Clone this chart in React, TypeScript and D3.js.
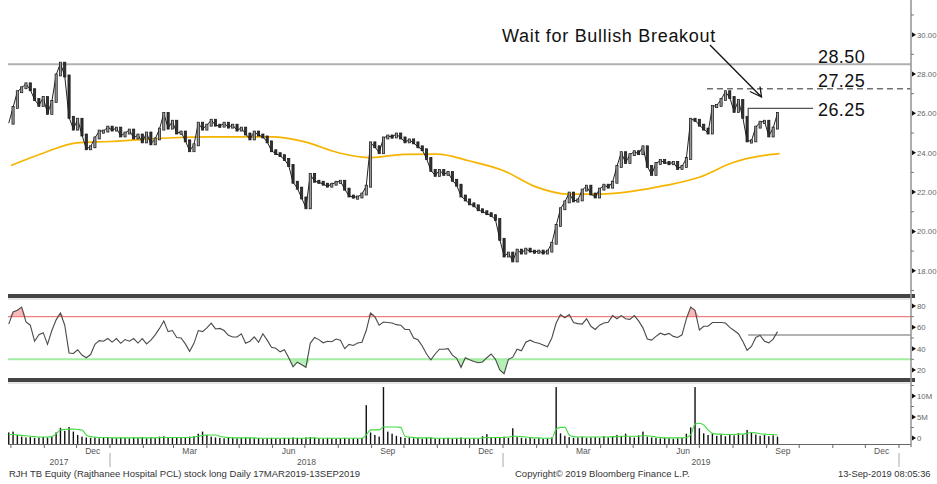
import React from 'react';
import * as d3 from 'd3';

const W = 937;
const H = 484;

// Sampling grid of the daily series (every 4 calendar days from 29 Sep 2017)
const SERIES_START = new Date(2017, 8, 29);
const SERIES_STEP_DAYS = 4;

const closePrices = [
  25.5, 26.3, 27.1, 27.3, 27.5, 27.2, 26.7, 26.4, 26.8, 26.0,
  26.6, 27.95, 28.55, 27.9, 25.8, 25.2, 25.7, 24.9, 24.2, 24.3,
  24.75, 25.1, 25.1, 25.3, 25.15, 25.25, 24.85, 25.0, 25.15, 24.75,
  24.9, 24.55, 25.0, 24.45, 24.7, 25.2, 26.0, 25.25, 25.6, 25.0,
  25.05, 24.6, 24.1, 24.4, 25.5, 25.2, 25.4, 25.65, 25.4, 25.35,
  25.5, 25.3, 25.4, 25.15, 25.25, 24.95, 24.7, 25.05, 24.9, 24.8,
  24.55, 24.1, 23.95, 23.85, 23.65, 23.35, 22.5, 22.2, 21.7, 21.2,
  22.9, 22.55, 22.5, 22.4, 22.3, 22.4, 22.5, 22.55, 22.15, 21.8,
  21.75, 21.75, 21.9, 22.3, 24.5, 24.3, 24.0, 24.75, 24.85, 24.8,
  24.95, 24.75, 24.55, 24.65, 24.5, 24.3, 24.15, 23.7, 23.1, 22.85,
  23.1, 22.9, 23.0, 22.6, 22.35, 21.8, 21.6, 21.4, 21.3, 21.1,
  21.0, 20.9, 20.8, 20.6, 19.6, 18.75, 18.9, 18.5, 19.05, 18.9,
  19.1, 19.0, 18.95, 19.0, 18.9, 19.0, 19.4, 20.3, 21.15, 21.5,
  21.95, 21.55, 21.6, 22.1, 22.3, 21.9, 21.75, 22.15, 22.35, 22.25,
  22.5, 23.3, 24.0, 23.5, 23.9, 24.05, 23.95, 24.3, 23.3, 22.9,
  23.45, 23.6, 23.5, 23.45, 23.5, 23.2, 23.3, 23.7, 25.7, 25.65,
  25.4, 25.2, 25.0, 26.35, 26.4, 26.7, 27.1, 26.8, 26.1, 26.65,
  25.8, 24.6, 24.6, 25.3, 25.55, 25.6, 24.85, 25.25, 26.0,
];

const rsiValues = [
  63, 74.4, 76, 79, 65, 62, 47, 53, 55, 44,
  57, 67, 73.4, 62, 36, 35.5, 39, 34, 31.5, 34.5,
  44, 47.5, 47, 49.5, 46.2, 49.5, 45, 48.5, 47, 49.5,
  45.3, 49.5, 44.5, 48, 53, 59, 66, 56, 57, 50.5,
  50, 44.5, 37.5, 45, 57, 56, 59.5, 64, 58.5, 59,
  57, 52.5, 51, 51, 54, 45, 47, 51, 46, 54,
  48, 41.4, 40.4, 37, 39, 31.5, 23, 27.3, 25, 22.5,
  45, 50.5, 48.5, 45.5, 47, 46.5, 49, 48, 40, 44,
  43, 45.3, 46, 57, 73.4, 70, 62, 65, 64.5, 64,
  62.5, 62, 58, 58, 50, 48.3, 42.5, 35, 29.5, 35,
  39.5, 39.5, 40, 34, 31, 22.5, 31.5, 29.5, 28, 26.8,
  27.5, 31.5, 35, 30, 20, 16.5, 30, 32, 39.5, 38,
  46, 48, 46, 45, 43.4, 41.8, 50, 64, 72, 69,
  72, 64.5, 63.5, 63, 68, 61, 58, 62, 64, 64.7,
  71, 68, 71, 68, 67.5, 71, 66, 59.5, 49, 48,
  51.5, 54.5, 53, 54.3, 51.5, 50.5, 53, 68, 79, 76,
  57.5, 61, 61, 64.5, 64.5, 64.5, 64, 60, 57, 54,
  47, 38.5, 42, 50.5, 52.5, 47, 45.5, 49, 56,
];

const volumeM = [
  1.8, 2.0, 1.2, 0.8, 0.6, 0.7, 0.5, 0.6, 0.7, 0.6,
  0.9, 1.8, 2.9, 2.2, 3.1, 2.0, 1.2, 0.8, 0.6, 0.5,
  0.6, 0.4, 0.5, 0.7, 0.5, 0.4, 0.6, 0.5, 0.4, 0.6,
  0.5, 0.7, 0.4, 0.6, 0.5, 0.8, 0.9, 0.6, 0.5, 0.7,
  0.6, 0.5, 0.8, 0.9, 1.5, 2.0, 1.2, 0.8, 0.6, 0.5,
  0.4, 0.5, 0.6, 0.4, 0.5, 0.6, 0.5, 0.4, 0.5, 0.3,
  0.4, 0.5, 0.4, 0.3, 0.5, 0.4, 0.6, 0.5, 0.4, 0.6,
  0.7, 0.5, 0.4, 0.3, 0.5, 0.4, 0.3, 0.4, 0.5, 0.3,
  0.4, 0.3, 0.5, 8.3, 1.8, 1.2, 0.8, 12.6, 2.0, 1.5,
  1.0, 0.7, 0.5, 0.6, 0.4, 0.5, 0.3, 0.5, 0.6, 0.4,
  0.3, 0.4, 0.5, 0.3, 0.4, 0.6, 0.4, 0.3, 0.4, 0.3,
  0.9, 1.4, 0.7, 0.5, 0.6, 0.8, 0.5, 2.8, 0.7, 0.5,
  0.4, 0.5, 0.3, 0.4, 0.3, 0.4, 0.6, 12.6, 1.6, 1.0,
  0.7, 0.5, 0.6, 0.8, 0.5, 0.6, 0.7, 0.5, 0.9, 0.6,
  0.8, 1.2, 0.9, 1.5, 0.7, 0.6, 1.1, 2.0, 0.8, 0.6,
  0.5, 0.4, 0.5, 0.4, 0.3, 0.4, 0.5, 1.5, 3.0, 12.6,
  2.8, 1.6, 1.2, 1.5, 1.0, 1.3, 0.9, 1.4, 1.1, 1.6,
  1.2, 2.4, 1.8, 1.3, 1.0, 1.2, 0.9, 1.1, 0.8,
];

const volumeAvgM = [
  1.3, 1.3, 1.2, 1.1, 1.0, 0.9, 0.8, 0.7, 0.7, 0.7,
  0.8, 1.5, 2.4, 2.5, 2.6, 2.6, 2.5, 2.4, 1.2, 0.8,
  0.7, 0.6, 0.6, 0.6, 0.5, 0.5, 0.5, 0.5, 0.5, 0.5,
  0.5, 0.5, 0.5, 0.5, 0.5, 0.6, 0.6, 0.6, 0.6, 0.6,
  0.6, 0.6, 0.6, 0.7, 0.9, 1.1, 1.2, 1.2, 1.2, 0.9,
  0.7, 0.6, 0.5, 0.5, 0.5, 0.5, 0.5, 0.5, 0.4, 0.4,
  0.4, 0.4, 0.4, 0.4, 0.4, 0.4, 0.4, 0.4, 0.4, 0.4,
  0.5, 0.5, 0.4, 0.4, 0.4, 0.4, 0.4, 0.4, 0.4, 0.4,
  0.4, 0.4, 0.4, 1.2, 2.4, 2.4, 2.4, 3.1, 3.1, 3.1,
  3.1, 3.0, 0.9, 0.7, 0.6, 0.5, 0.5, 0.5, 0.5, 0.4,
  0.4, 0.4, 0.4, 0.4, 0.4, 0.4, 0.4, 0.4, 0.4, 0.4,
  0.5, 0.6, 0.6, 0.6, 0.6, 0.6, 0.7, 0.9, 0.9, 0.8,
  0.7, 0.6, 0.5, 0.5, 0.4, 0.4, 0.4, 2.6, 3.0, 3.0,
  1.2, 0.8, 0.7, 0.7, 0.7, 0.7, 0.7, 0.7, 0.7, 0.7,
  0.8, 0.8, 0.9, 0.9, 0.9, 0.9, 0.9, 1.0, 1.0, 0.9,
  0.7, 0.6, 0.5, 0.5, 0.5, 0.5, 0.5, 0.6, 1.2, 3.8,
  4.0, 3.6, 2.4, 1.6, 1.4, 1.4, 1.3, 1.3, 1.3, 1.4,
  1.4, 1.6, 1.8, 1.7, 1.5, 1.4, 1.3, 1.3, 1.2,
];

const maDates = [
  '2017-10-01', '2017-11-01', '2017-12-01', '2018-01-01', '2018-02-01',
  '2018-03-01', '2018-04-01', '2018-05-01', '2018-06-01', '2018-07-01',
  '2018-08-01', '2018-09-01', '2018-10-01', '2018-11-01', '2018-12-01',
  '2019-01-01', '2019-02-01', '2019-03-01', '2019-04-01', '2019-05-01',
  '2019-06-01', '2019-07-01', '2019-08-01', '2019-09-01', '2019-09-13',
];
const maValues = [
  23.35, 24.0, 24.5, 24.57, 24.68,
  24.76, 24.8, 24.8, 24.8, 24.55,
  24.0, 23.75, 23.92, 23.93, 23.58,
  23.1, 22.25, 21.9, 21.9, 22.05,
  22.35, 22.75, 23.5, 23.88, 23.95,
];

const priceTicks = [18, 20, 22, 24, 26, 28, 30];
const priceMinorTicks = [17, 19, 21, 23, 25, 27, 29, 31];
const rsiTicks = [20, 40, 60, 80];
const rsiMinorTicks = [30, 50, 70];
const volTicks = [0, 5, 10];
const volTickLabels = ['0', '5M', '10M'];
const volMinorTicks = [2.5, 7.5, 12.5];
const quarterMonths = [2, 5, 8, 11];
const monthNames = ['Jan', 'Feb', 'Mar', 'Apr', 'May', 'Jun', 'Jul', 'Aug', 'Sep', 'Oct', 'Nov', 'Dec'];
const yearLabels = ['2017', '2018', '2019'];

const resistanceHigh = 28.5;
const breakoutLevel = 27.25;
const nearLevel = 26.25;
const rsiOverbought = 70;
const rsiOversold = 30;
const rsiMarker = 52.8;
const annotationText = 'Wait for Bullish Breakout';
const footerLeft = 'RJH TB Equity (Rajthanee Hospital PCL) stock long  Daily 17MAR2019-13SEP2019';
const footerMid = 'Copyright\u00A9 2019 Bloomberg Finance L.P.';
const footerRight = '13-Sep-2019 08:05:36';

const FONT = '"Liberation Sans", Arial, sans-serif';

export default function App() {
  const L = 8;
  const R = 911;
  const dates = closePrices.map((_, i) => d3.timeDay.offset(SERIES_START, i * SERIES_STEP_DAYS));
  const x = d3
    .scaleTime()
    .domain([new Date(2017, 8, 27), new Date(2019, 0, 1), new Date(2020, 0, 1)])
    .range([6.6, 503, 899]);
  const yP = d3.scaleLinear().domain([16.82, 31.76]).range([294, 0]);
  const yR = d3.scaleLinear().domain([12.5, 87.5]).range([378, 298]);
  const yV = d3.scaleLinear().domain([0, 10]).range([440, 398]);

  const priceLine = d3
    .line<number>()
    .x((_, i) => x(dates[i]))
    .y((d) => yP(d));
  const maData = maDates.map((s, i) => ({ d: d3.timeParse('%Y-%m-%d')(s) as Date, v: maValues[i] }));
  const maLine = d3
    .line<{ d: Date; v: number }>()
    .x((p) => x(p.d))
    .y((p) => yP(p.v))
    .curve(d3.curveMonotoneX);
  const rsiLine = d3
    .line<number>()
    .x((_, i) => x(dates[i]))
    .y((d) => yR(d));
  const rsiHi = d3
    .area<number>()
    .x((_, i) => x(dates[i]))
    .y0(yR(rsiOverbought))
    .y1((d) => yR(Math.max(d, rsiOverbought)));
  const rsiLo = d3
    .area<number>()
    .x((_, i) => x(dates[i]))
    .y0(yR(rsiOversold))
    .y1((d) => yR(Math.min(d, rsiOversold)));
  const volAvgLine = d3
    .line<number>()
    .x((_, i) => x(dates[i]))
    .y((d) => yV(d))
    .curve(d3.curveMonotoneX);

  const monthStarts = d3.timeMonth.range(new Date(2017, 9, 1), new Date(2020, 0, 2));
  const quarterLabels = monthStarts
    .filter((m) => quarterMonths.includes(m.getMonth()))
    .map((m) => ({ label: monthNames[m.getMonth()], xp: x(new Date(m.getFullYear(), m.getMonth(), 16)) }));
  const yearBounds = [L, x(new Date(2018, 0, 1)), x(new Date(2019, 0, 1)), x(new Date(2020, 0, 1))];

  const axisTxt = { fontFamily: FONT, fontSize: 7.8, fill: '#666' };
  const tri = (yy: number, key: string) => (
    <path key={key} d={`M${R + 1},${yy - 2.5} L${R + 5},${yy} L${R + 1},${yy + 2.5} Z`} fill="#111" />
  );

  // candle-like bodies spanning consecutive closes
  const bodies = closePrices.slice(1).map((c, k) => {
    const prev = closePrices[k];
    const xc = x(dates[k + 1]);
    const top = yP(Math.max(prev, c));
    const bot = yP(Math.min(prev, c));
    return { xc, top, h: Math.max(1.2, bot - top), up: c >= prev };
  });

  return (
    <svg
      width={W}
      height={H}
      style={{ position: 'absolute', left: 0, top: 0, background: '#fff' }}
      xmlns="http://www.w3.org/2000/svg"
    >
      <defs>
        <clipPath id="plot">
          <rect x={L} y={0} width={R - L} height={H} />
        </clipPath>
      </defs>
      <rect x={0} y={0} width={W} height={H} fill="#fff" />

      {/* Main price panel */}
      <g clipPath="url(#plot)">
        <line x1={L} x2={R} y1={yP(resistanceHigh)} y2={yP(resistanceHigh)} stroke="#b0b0b0" strokeWidth={2} />
        <line
          x1={x(new Date(2019, 6, 8))}
          x2={R}
          y1={yP(breakoutLevel)}
          y2={yP(breakoutLevel)}
          stroke="#707070"
          strokeWidth={1.4}
          strokeDasharray="6,4"
        />
        <path d={maLine(maData) || ''} fill="none" stroke="#f6b400" strokeWidth={1.7} />
        <path d={priceLine(closePrices) || ''} fill="none" stroke="#222" strokeWidth={1} />
        {bodies.map((b, i) => (
          <rect
            key={'b' + i}
            x={b.xc - 1.1}
            y={b.top - 1}
            width={2.2}
            height={b.h + 2}
            fill={b.up ? '#9a9a9a' : '#333'}
            stroke="#111"
            strokeWidth={0.7}
          />
        ))}
        <path
          d={`M${x(new Date(2019, 7, 15))},${yP(nearLevel) + 8} L${x(new Date(2019, 7, 15))},${yP(nearLevel)} L813,${yP(
            nearLevel
          )}`}
          fill="none"
          stroke="#555"
          strokeWidth={1.3}
        />
      </g>

      {/* Annotations */}
      <text x={502} y={42} fontFamily={FONT} fontSize={18} letterSpacing={0.7} fill="#111">
        {annotationText}
      </text>
      <line x1={710} y1={45} x2={761.5} y2={97} stroke="#111" strokeWidth={1.3} />
      <path d="M750,91.5 L761.5,97 L760,86.5" fill="none" stroke="#111" strokeWidth={1.3} />
      <text x={818} y={62.5} fontFamily={FONT} fontSize={18} letterSpacing={0.4} fill="#111">
        {resistanceHigh.toFixed(2)}
      </text>
      <text x={818} y={86.5} fontFamily={FONT} fontSize={18} letterSpacing={0.4} fill="#111">
        {breakoutLevel.toFixed(2)}
      </text>
      <text x={818} y={115.5} fontFamily={FONT} fontSize={18} letterSpacing={0.4} fill="#111">
        {nearLevel.toFixed(2)}
      </text>

      {/* Separators */}
      <rect x={L} y={294} width={R - L + 4} height={4} fill="#444" />
      <line x1={L} x2={R} y1={299} y2={299} stroke="#ccc" strokeWidth={1} />
      <rect x={L} y={378} width={R - L + 4} height={4} fill="#444" />
      <line x1={L} x2={R} y1={383} y2={383} stroke="#ccc" strokeWidth={1} />

      {/* RSI panel */}
      <g clipPath="url(#plot)">
        <path d={rsiHi(rsiValues) || ''} fill="#f7b9b9" />
        <path d={rsiLo(rsiValues) || ''} fill="#b6f0b6" />
        <line x1={L} x2={R} y1={yR(rsiOverbought)} y2={yR(rsiOverbought)} stroke="#f07f7f" strokeWidth={1.3} />
        <line x1={L} x2={R} y1={yR(rsiOversold)} y2={yR(rsiOversold)} stroke="#a3eda3" strokeWidth={2} />
        <line
          x1={x(new Date(2019, 7, 15))}
          x2={R}
          y1={yR(rsiMarker)}
          y2={yR(rsiMarker)}
          stroke="#9a9a9a"
          strokeWidth={1.3}
        />
        <path d={rsiLine(rsiValues) || ''} fill="none" stroke="#4a4a4a" strokeWidth={1.1} />
      </g>

      {/* Volume panel */}
      <g clipPath="url(#plot)">
        {volumeM.map((v, i) => (
          <rect
            key={i}
            x={x(dates[i]) - 0.7}
            y={yV(v)}
            width={1.4}
            height={Math.max(0, 444 - yV(v))}
            fill="#111"
          />
        ))}
        <path d={volAvgLine(volumeAvgM) || ''} fill="none" stroke="#3fdc3f" strokeWidth={1.1} />
      </g>

      {/* Frame / right axis */}
      <line x1={L} x2={R} y1={444.5} y2={444.5} stroke="#666" strokeWidth={1} />
      <line x1={R} x2={R} y1={0} y2={447} stroke="#999" strokeWidth={1.6} />
      {priceMinorTicks.map((t) => (
        <line key={'pm' + t} x1={R} x2={R + 3} y1={yP(t)} y2={yP(t)} stroke="#777" />
      ))}
      {priceTicks.map((t) => (
        <g key={'p' + t}>
          {tri(yP(t), 'pt' + t)}
          <text x={R + 6} y={yP(t) + 3} {...axisTxt}>
            {t.toFixed(2)}
          </text>
        </g>
      ))}
      {rsiMinorTicks.map((t) => (
        <line key={'rm' + t} x1={R} x2={R + 3} y1={yR(t)} y2={yR(t)} stroke="#777" />
      ))}
      {rsiTicks.map((t) => (
        <g key={'r' + t}>
          {tri(yR(t), 'rt' + t)}
          <text x={R + 6} y={yR(t) + 3} {...axisTxt}>
            {t}
          </text>
        </g>
      ))}
      {volMinorTicks.map((t) => (
        <line key={'vm' + t} x1={R} x2={R + 3} y1={yV(t) - 2} y2={yV(t) - 2} stroke="#777" />
      ))}
      {volTicks.map((t, i) => (
        <g key={'v' + t}>
          {tri(yV(t) - 2, 'vt' + t)}
          <text x={R + 6} y={yV(t) + 1} {...axisTxt}>
            {volTickLabels[i]}
          </text>
        </g>
      ))}

      {/* Bottom time axis */}
      {monthStarts
        .filter((m) => x(m) > L && x(m) < R)
        .map((m, i) => (
          <line key={'mt' + i} x1={x(m)} x2={x(m)} y1={445} y2={448} stroke="#666" />
        ))}
      {quarterLabels.map((q, i) => (
        <text key={'ql' + i} x={q.xp} y={454} textAnchor="middle" fontFamily={FONT} fontSize={8.5} fill="#555">
          {q.label}
        </text>
      ))}
      {yearBounds.slice(1).map((b, i) => (
        <line key={'yb' + i} x1={b} x2={b} y1={453} y2={467} stroke="#aaa" />
      ))}
      {yearLabels.map((yl, i) => (
        <text
          key={yl}
          x={(yearBounds[i] + yearBounds[i + 1]) / 2}
          y={465}
          textAnchor="middle"
          fontFamily={FONT}
          fontSize={8.5}
          fill="#555"
        >
          {yl}
        </text>
      ))}

      {/* Footer */}
      <text x={9} y={477} fontFamily={FONT} fontSize={9.5} fill="#333">
        {footerLeft}
      </text>
      <text x={515} y={477} fontFamily={FONT} fontSize={9.5} fill="#333">
        {footerMid}
      </text>
      <text x={838} y={477} fontFamily={FONT} fontSize={9.3} fill="#333">
        {footerRight}
      </text>
    </svg>
  );
}
